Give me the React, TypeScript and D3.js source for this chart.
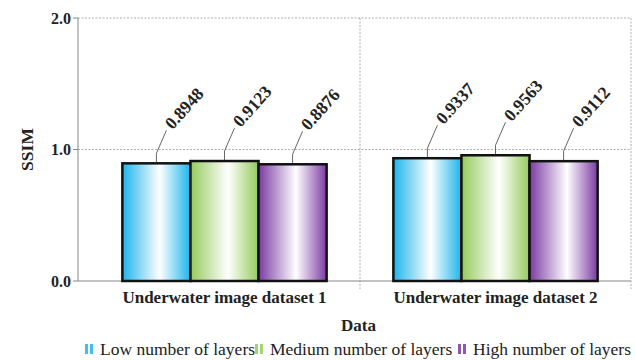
import React from "react";
import * as d3 from "d3";

const categories = ["Underwater image dataset 1", "Underwater image dataset 2"];
const seriesNames = ["Low number of layers", "Medium number of layers", "High number of layers"];
const lowValues = [0.8948, 0.9337];
const mediumValues = [0.9123, 0.9563];
const highValues = [0.8876, 0.9112];
const yTicks = [0.0, 1.0, 2.0];
const seriesColors = ["#1db4ec", "#94cb5c", "#7b3aa3"];

const W = 635;
const H = 360;
const left = 78;
const right = 631;
const top = 18;
const bottom = 281;
const font = "Liberation Serif, DejaVu Serif, serif";

export default function App() {
  const series = [lowValues, mediumValues, highValues];
  const y = d3.scaleLinear().domain([0, 2]).range([bottom, top]);
  const x0 = d3.scaleBand<string>().domain(categories).range([89, right]).padding(0);
  const x1 = d3
    .scaleBand<string>()
    .domain(seriesNames)
    .range([0, x0.bandwidth()])
    .paddingInner(0)
    .paddingOuter(0.49);

  const legendX = [85, 255, 458];
  const ts = { fontFamily: font } as React.CSSProperties;

  return (
    <svg
      width={W}
      height={H}
      style={{ position: "absolute", left: 0, top: 0, background: "#fff", fontFamily: font }}
    >
      <defs>
        {seriesColors.map((c, i) => (
          <linearGradient key={i} id={`g${i}`} x1="0" x2="1" y1="0" y2="0">
            <stop offset="0" stopColor={c} />
            <stop offset="0.55" stopColor="#ffffff" />
            <stop offset="1" stopColor={c} />
          </linearGradient>
        ))}
      </defs>
      {yTicks.filter((t) => t > 0).map((t) => (
        <line
          key={t}
          x1={left}
          x2={right}
          y1={y(t)}
          y2={y(t)}
          stroke="#9a9a9a"
          strokeWidth={0.8}
          strokeDasharray="2,1.5"
        />
      ))}
      {[x0(categories[1])!, right].map((xv, i) => (
        <line
          key={i}
          x1={xv}
          x2={xv}
          y1={top}
          y2={bottom + 8}
          stroke="#9a9a9a"
          strokeWidth={0.8}
          strokeDasharray="2,1.5"
        />
      ))}
      <line x1={left} x2={left} y1={top} y2={bottom} stroke="#888" strokeWidth={1} />
      <line x1={left} x2={right} y1={bottom} y2={bottom} stroke="#888" strokeWidth={1} />
      {yTicks.map((t) => (
        <g key={t}>
          <line x1={left - 5} x2={left} y1={y(t)} y2={y(t)} stroke="#888" strokeWidth={1} />
          <text
            x={left - 7}
            y={y(t)}
            dy="0.35em"
            textAnchor="end"
            fontWeight="bold"
            fontSize={16}
            fill="#222"
            style={ts}
          >
            {t.toFixed(1)}
          </text>
        </g>
      ))}
      {categories.map((cat, ci) => (
        <g key={cat} transform={`translate(${x0(cat)},0)`}>
          {seriesNames.map((s, si) => {
            const v = series[si][ci];
            const bx = x1(s)!;
            const bw = x1.bandwidth();
            const yt = y(v);
            const cx = bx + bw / 2;
            return (
              <g key={s}>
                <rect
                  x={bx}
                  y={yt}
                  width={bw}
                  height={bottom - yt}
                  fill={`url(#g${si})`}
                  stroke="#111"
                  strokeWidth={2.5}
                />
                <polyline
                  points={`${cx},${yt - 1} ${cx},${yt - 10} ${cx + 10},${yt - 33}`}
                  fill="none"
                  stroke="#555"
                  strokeWidth={0.9}
                />
                <text
                  transform={`translate(${cx + 16},${yt - 33}) rotate(-48)`}
                  fontWeight="bold"
                  fontSize={17.5}
                  fill="#222"
                  style={ts}
                >
                  {v.toFixed(4)}
                </text>
              </g>
            );
          })}
          <text
            x={x0.bandwidth() / 2}
            y={303}
            textAnchor="middle"
            fontWeight="bold"
            fontSize={17}
            fill="#222"
            style={ts}
          >
            {cat}
          </text>
        </g>
      ))}
      <text x={(left + right) / 2 + 4} y={331} textAnchor="middle" fontWeight="bold" fontSize={17} fill="#222" style={ts}>
        Data
      </text>
      <text
        transform={`translate(33,${(top + bottom) / 2}) rotate(-90)`}
        textAnchor="middle"
        fontWeight="bold"
        fontSize={17.5}
        fill="#222"
        style={ts}
      >
        SSIM
      </text>
      {seriesNames.map((s, i) => (
        <g key={s} transform={`translate(${legendX[i]},0)`}>
          <rect x={0} y={344} width={3} height={10} fill={seriesColors[i]} opacity={0.85} />
          <rect x={5} y={344} width={3} height={10} fill={seriesColors[i]} opacity={0.85} />
          <text x={15} y={355} fontSize={17.5} fill="#222" style={ts}>
            {s}
          </text>
        </g>
      ))}
    </svg>
  );
}
